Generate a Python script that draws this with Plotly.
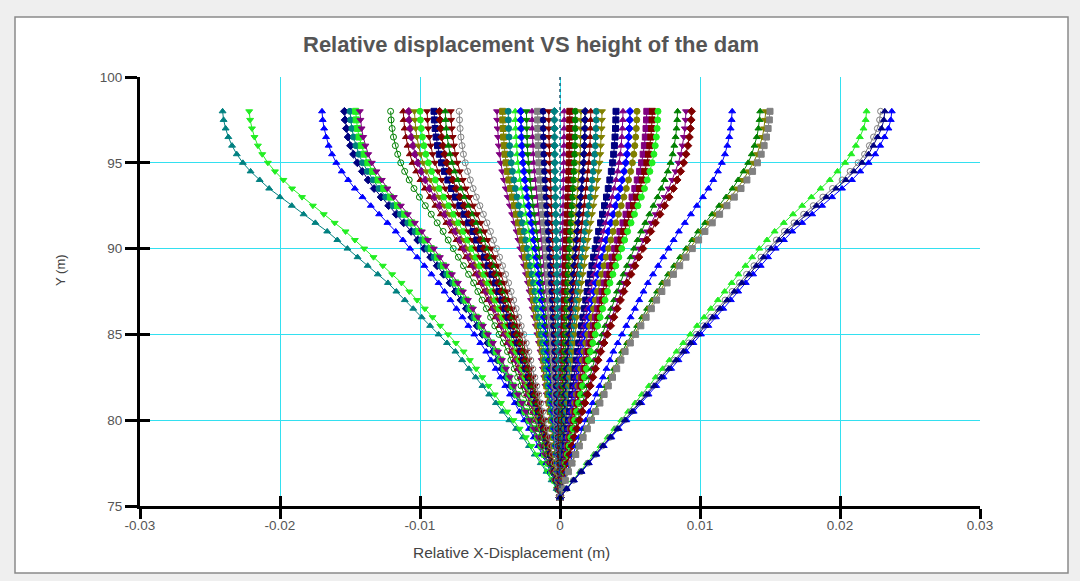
import plotly.graph_objects as go

# Node elevations along the dam axis (m)
HEIGHTS = [75.5, 76.0, 76.5, 77.0, 77.5, 78.0, 78.5, 79.0, 79.5, 80.0,
           80.5, 81.0, 81.5, 82.0, 82.5, 83.0, 83.5, 84.0, 84.5, 85.0,
           85.5, 86.0, 86.5, 87.0, 87.5, 88.0, 88.5, 89.0, 89.5, 90.0,
           90.5, 91.0, 91.5, 92.0, 92.5, 93.0, 93.5, 94.0, 94.5, 95.0,
           95.5, 96.0, 96.5, 97.0, 97.5, 98.0]

# Displacement shape relative to crest displacement, per elevation
SHAPE_BEND = [0.000, 0.010, 0.025, 0.040, 0.057, 0.075, 0.092, 0.110, 0.130, 0.150,
              0.170, 0.190, 0.210, 0.230, 0.250, 0.270, 0.290, 0.310, 0.335, 0.360,
              0.385, 0.410, 0.435, 0.460, 0.485, 0.510, 0.540, 0.570, 0.600, 0.630,
              0.660, 0.690, 0.725, 0.760, 0.795, 0.830, 0.862, 0.890, 0.917, 0.940,
              0.958, 0.972, 0.983, 0.991, 0.997, 1.000]
SHAPE_LEAN = [0.000, 0.020, 0.042, 0.065, 0.087, 0.110, 0.132, 0.155, 0.177, 0.200,
              0.222, 0.245, 0.267, 0.290, 0.312, 0.335, 0.357, 0.380, 0.402, 0.425,
              0.447, 0.470, 0.492, 0.515, 0.537, 0.560, 0.582, 0.605, 0.627, 0.650,
              0.675, 0.700, 0.730, 0.760, 0.790, 0.820, 0.850, 0.880, 0.905, 0.930,
              0.950, 0.965, 0.978, 0.990, 0.997, 1.000]

# Crest (y = 98 m) relative displacement of each time step (m)
CREST_DISP = [-0.0241, -0.0222, -0.0170, -0.0154, -0.0150, -0.0146, -0.0143,
              -0.0121, -0.0112, -0.0108, -0.0104, -0.0100, -0.0095, -0.0090,
              -0.0086, -0.0082, -0.0078, -0.0072, -0.0045, -0.0041, -0.0037,
              -0.0032, -0.0028, -0.0024, -0.0020, -0.0016, -0.0012, -0.0008,
              -0.0004, 0.0003, 0.0007, 0.0011, 0.0015, 0.0018, 0.0022, 0.0026,
              0.0030, 0.0040, 0.0045, 0.0050, 0.0055, 0.0062, 0.0066, 0.0070,
              0.0084, 0.0090, 0.0094, 0.0123, 0.0143, 0.0147, 0.0150, 0.0219,
              0.0229, 0.0237, 0.0232]
SHAPE_OF = ["bend"] * 51 + ["lean"] * 4

# Reference vertical at zero displacement
ZERO_X = [0.0, 0.0]
ZERO_Y = [75.0, 100.0]

X_TICKS = [-0.03, -0.02, -0.01, 0, 0.01, 0.02, 0.03]
X_TICK_TEXT = ["-0.03", "-0.02", "-0.01", "0", "0.01", "0.02", "0.03"]
Y_TICKS = [75, 80, 85, 90, 95, 100]

# Series styling
C = {"teal": "#008080", "lime": "#22ee22", "blue": "#0000ff", "navy": "#000080",
     "green": "#008000", "maroon": "#800000", "purple": "#800080",
     "olive": "#808000", "gray": "#808080"}
SERIES_COLOR = ["teal", "lime", "blue", "navy", "teal", "lime", "purple",
                "green", "maroon", "purple", "olive", "lime", "maroon", "navy",
                "maroon", "green", "maroon", "gray", "purple", "olive", "teal",
                "lime", "blue", "green", "purple", "gray", "navy", "maroon",
                "teal", "purple", "maroon", "green", "olive", "navy", "maroon",
                "teal", "olive", "navy", "purple", "blue", "olive", "purple",
                "maroon", "lime", "green", "purple", "maroon", "blue", "green",
                "olive", "gray", "lime", "gray", "blue", "navy"]
SERIES_SYMBOL = ["triangle-up", "triangle-down", "triangle-up", "diamond", "circle",
                 "square", "triangle-down", "circle-open", "triangle-up", "diamond",
                 "triangle-down", "circle", "triangle-down", "square", "diamond",
                 "triangle-up", "triangle-down", "circle-open", "triangle-down", "square",
                 "circle", "triangle-up", "diamond", "triangle-down", "triangle-up",
                 "square", "circle", "triangle-down", "diamond", "triangle-up",
                 "square", "circle", "triangle-down", "diamond", "triangle-up",
                 "circle", "triangle-down", "square", "triangle-up", "diamond",
                 "circle", "square", "square", "circle", "triangle-up",
                 "triangle-down", "diamond", "triangle-up", "triangle-up", "triangle-down",
                 "square", "triangle-up", "circle-open", "triangle-up", "triangle-up"]

fig = go.Figure()

shapes = {"bend": SHAPE_BEND, "lean": SHAPE_LEAN}
for crest, kind, cname, sym in zip(CREST_DISP, SHAPE_OF, SERIES_COLOR, SERIES_SYMBOL):
    xs = [crest * r for r in shapes[kind]]
    col = C[cname]
    fig.add_trace(go.Scatter(
        x=xs, y=HEIGHTS, mode="lines+markers",
        line=dict(color=col, width=1),
        marker=dict(color=col, size=6, symbol=sym, line=dict(color=col, width=1)),
        showlegend=False, hoverinfo="skip"))

fig.add_trace(go.Scatter(
    x=ZERO_X, y=ZERO_Y, mode="lines",
    line=dict(color="#205a70", width=1.5, dash="dot"),
    showlegend=False, hoverinfo="skip"))

# second axis pair only carries the inner half of the tick marks
fig.add_trace(go.Scatter(x=[None], y=[None], xaxis="x2", yaxis="y2",
                         showlegend=False, hoverinfo="skip"))

FONT = "Liberation Sans, Arial, sans-serif"
axis_font = dict(family=FONT, size=13.5, color="#555555")

fig.update_layout(
    width=1080, height=581,
    margin=dict(l=140, r=100, t=77, b=75),
    paper_bgcolor="#efefef",
    plot_bgcolor="white",
    title=dict(text="<b>Relative displacement VS height of the dam</b>",
               x=531 / 1080, xanchor="center", y=1 - 44 / 581, yanchor="middle",
               font=dict(family=FONT, size=22, color="#555555")),
    xaxis=dict(range=[-0.03, 0.03], tickvals=X_TICKS, ticktext=X_TICK_TEXT,
               showgrid=True, gridcolor="#33e0f0", gridwidth=1, zeroline=False,
               showline=True, linecolor="black", linewidth=3,
               ticks="outside", ticklen=10, tickwidth=3, tickcolor="black",
               ticklabelstandoff=-5, tickfont=axis_font),
    yaxis=dict(range=[75, 100], tickvals=Y_TICKS,
               showgrid=True, gridcolor="#33e0f0", gridwidth=1, zeroline=False,
               showline=True, linecolor="black", linewidth=3,
               ticks="outside", ticklen=12, tickwidth=3, tickcolor="black",
               tickfont=axis_font),
    xaxis2=dict(range=[-0.03, 0.03], tickvals=X_TICKS, overlaying="x", matches="x",
                showticklabels=False, showgrid=False, zeroline=False,
                ticks="inside", ticklen=10, tickwidth=3, tickcolor="black"),
    yaxis2=dict(range=[75, 100], tickvals=Y_TICKS, overlaying="y", matches="y",
                showticklabels=False, showgrid=False, zeroline=False,
                ticks="inside", ticklen=10, tickwidth=3, tickcolor="black"),
    shapes=[dict(type="rect", xref="paper", yref="paper", layer="below",
                 x0=(15 - 140) / 840, x1=(1068 - 140) / 840,
                 y0=(506 - 573) / 429, y1=(506 - 17) / 429,
                 fillcolor="white", line=dict(color="#8a8a8a", width=1.5))],
    annotations=[
        dict(text="Relative X-Displacement (m)", xref="paper", yref="paper",
             x=(511 - 140) / 840, y=(506 - 552) / 429, showarrow=False,
             xanchor="center", yanchor="middle",
             font=dict(family=FONT, size=15.5, color="#444444")),
        dict(text="Y (m)", xref="paper", yref="paper", textangle=-90,
             x=(60 - 140) / 840, y=(506 - 270) / 429, showarrow=False,
             xanchor="center", yanchor="middle",
             font=dict(family=FONT, size=13, color="#444444")),
    ],
)

fig.write_html("out.html")
